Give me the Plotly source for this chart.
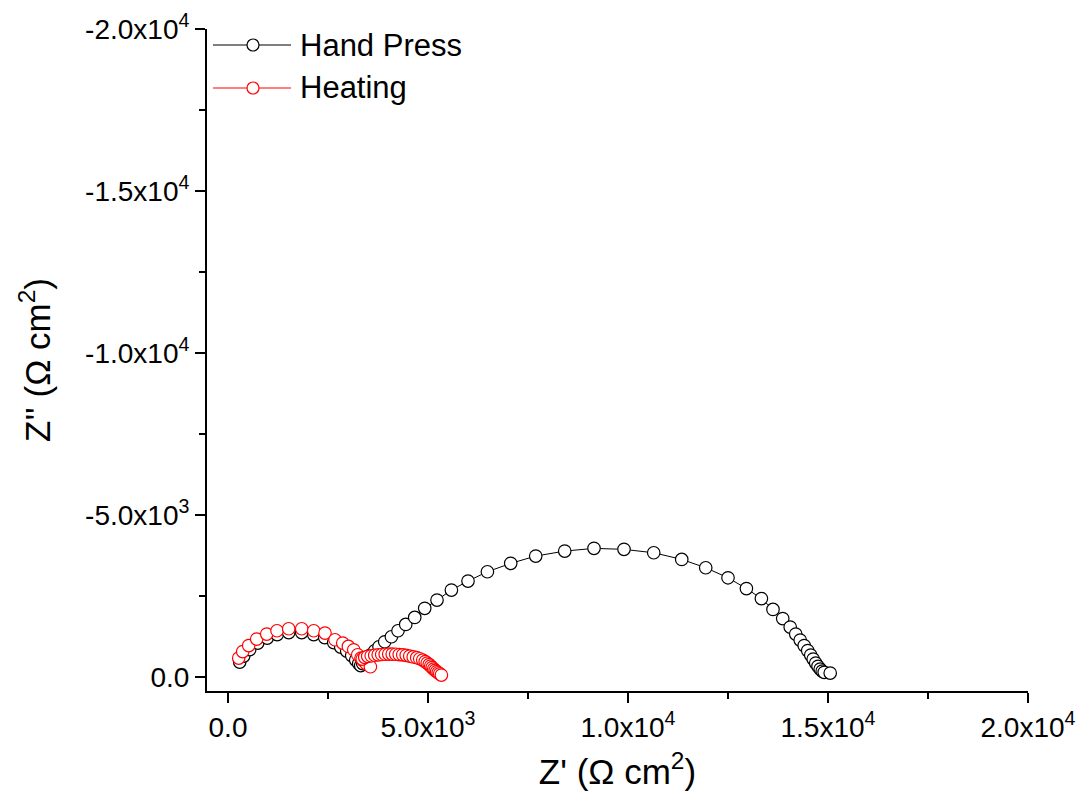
import plotly.graph_objects as go

# ---------------- data ----------------
hand_press_zre = [293, 393, 543, 743, 980, 1230, 1518, 1843, 2143, 2418, 2643, 2818, 2968, 3093,
                  3193, 3268, 3318,
                  3368, 3443, 3560, 3668, 3775, 3918, 4085, 4250, 4443, 4668, 4918, 5225, 5585,
                  6000, 6485, 7068, 7693, 8418, 9150, 9900, 10643, 11343, 11943, 12500, 12960,
                  13335, 13625, 13868, 14055, 14193, 14305, 14405, 14493, 14568, 14630, 14693,
                  14750, 14805, 14855, 14905, 15055]
hand_press_zim = [-463, -648, -849, -1049, -1203, -1312, -1373, -1373, -1312, -1219, -1065, -926, -802, -663,
                  -525, -417, -355,
                  -417, -577, -679, -812, -935, -1089, -1244, -1429, -1626, -1842, -2120, -2376, -2685,
                  -2963, -3250, -3509, -3734, -3888, -3972, -3941, -3836, -3632, -3373, -3064, -2731,
                  -2423, -2089, -1805, -1543, -1327, -1142, -972, -818, -679, -555, -432,
                  -330, -247, -185, -145, -123]

heating_zre = [268, 368, 518, 718, 968, 1225, 1518, 1843, 2143, 2425, 2675, 2868, 3010, 3143, 3243, 3325,
               3380, 3455, 3560,
               3355, 3418, 3493, 3580, 3668, 3755, 3843, 3930, 4018, 4105, 4193, 4280, 4368, 4455,
               4543, 4630, 4718, 4793, 4868, 4930, 4980, 5030, 5068, 5105, 5143, 5180, 5218, 5255,
               5293, 5335]
heating_zim = [-586, -787, -972, -1173, -1327, -1429, -1491, -1491, -1429, -1358, -1151, -1049, -947, -842, -688, -586,
               -509, -417, -318,
               -555, -608, -639, -657, -673, -685, -697, -704, -710, -710, -704, -694, -685, -670,
               -648, -623, -599, -565, -525, -478, -432, -386, -339, -293, -247, -207, -170, -133,
               -99, -62]

series_names = ["Hand Press", "Heating"]
series_colors = ["#000000", "#ff0000"]

x_tickvals = [0, 5000, 10000, 15000, 20000]
x_ticktext = ["0.0", "5.0x10<sup>3</sup>", "1.0x10<sup>4</sup>", "1.5x10<sup>4</sup>", "2.0x10<sup>4</sup>"]
x_minor = [2500, 7500, 12500, 17500]
y_tickvals = [0, -5000, -10000, -15000, -20000]
y_ticktext = ["0.0", "-5.0x10<sup>3</sup>", "-1.0x10<sup>4</sup>", "-1.5x10<sup>4</sup>", "-2.0x10<sup>4</sup>"]
y_minor = [-2500, -7500, -12500, -17500]

FONT = "Liberation Sans, Arial, sans-serif"

fig = go.Figure()
for xs, ys, name, col in [(hand_press_zre, hand_press_zim, series_names[0], series_colors[0]),
                          (heating_zre, heating_zim, series_names[1], series_colors[1])]:
    fig.add_trace(go.Scatter(
        x=xs, y=ys, name=name, mode="lines+markers",
        line=dict(color=col, width=1),
        marker=dict(symbol="circle", size=12.5, color="white", line=dict(color=col, width=1.2)),
        showlegend=False,
    ))

axis_common = dict(
    showline=True, linecolor="black", linewidth=2, mirror=False,
    ticks="outside", ticklen=10, tickwidth=2, tickcolor="black",
    showgrid=False, zeroline=False,
    tickfont=dict(family=FONT, size=28, color="black"),
    tickmode="array",
)

fig.update_xaxes(
    **axis_common,
    range=[-525, 20000],
    tickvals=x_tickvals, ticktext=x_ticktext,
    minor=dict(tickmode="array", tickvals=x_minor, ticks="outside", ticklen=6, tickwidth=2, tickcolor="black"),
    title=dict(text="Z' (Ω cm<sup>2</sup>)", font=dict(family=FONT, size=35, color="black"), standoff=18),
)
fig.update_yaxes(
    **axis_common,
    range=[430, -20000],
    tickvals=y_tickvals, ticktext=y_ticktext,
    minor=dict(tickmode="array", tickvals=y_minor, ticks="outside", ticklen=6, tickwidth=2, tickcolor="black"),
    title=dict(text="Z'' (Ω cm<sup>2</sup>)", font=dict(family=FONT, size=35, color="black"), standoff=24),
)

# custom legend (long line samples like the reference)
L, R, T, B = 207, 1028, 29, 691
def px(xp):
    return (xp - L) / (R - L)
def py(yp):
    return (B - yp) / (B - T)

shapes = []
annotations = []
for i, (name, col) in enumerate(zip(series_names, series_colors)):
    yc = 45 + 43 * i
    shapes.append(dict(type="line", xref="paper", yref="paper", x0=px(213), x1=px(291), y0=py(yc), y1=py(yc),
                       line=dict(color=col, width=1.2)))
    shapes.append(dict(type="circle", xref="paper", yref="paper", xsizemode="pixel", ysizemode="pixel",
                       xanchor=px(253), yanchor=py(yc), x0=-6, x1=6, y0=-6, y1=6,
                       fillcolor="white", line=dict(color=col, width=1.2)))
    annotations.append(dict(xref="paper", yref="paper", x=px(298), y=py(yc), xanchor="left", yanchor="middle",
                            text=name, showarrow=False, font=dict(family=FONT, size=31, color="black")))

fig.update_layout(
    width=1078, height=805,
    margin=dict(l=L, r=1078 - R, t=T, b=805 - B, autoexpand=False),
    paper_bgcolor="white", plot_bgcolor="white",
    shapes=shapes, annotations=annotations,
    showlegend=False,
)

fig.write_html("out.html")
